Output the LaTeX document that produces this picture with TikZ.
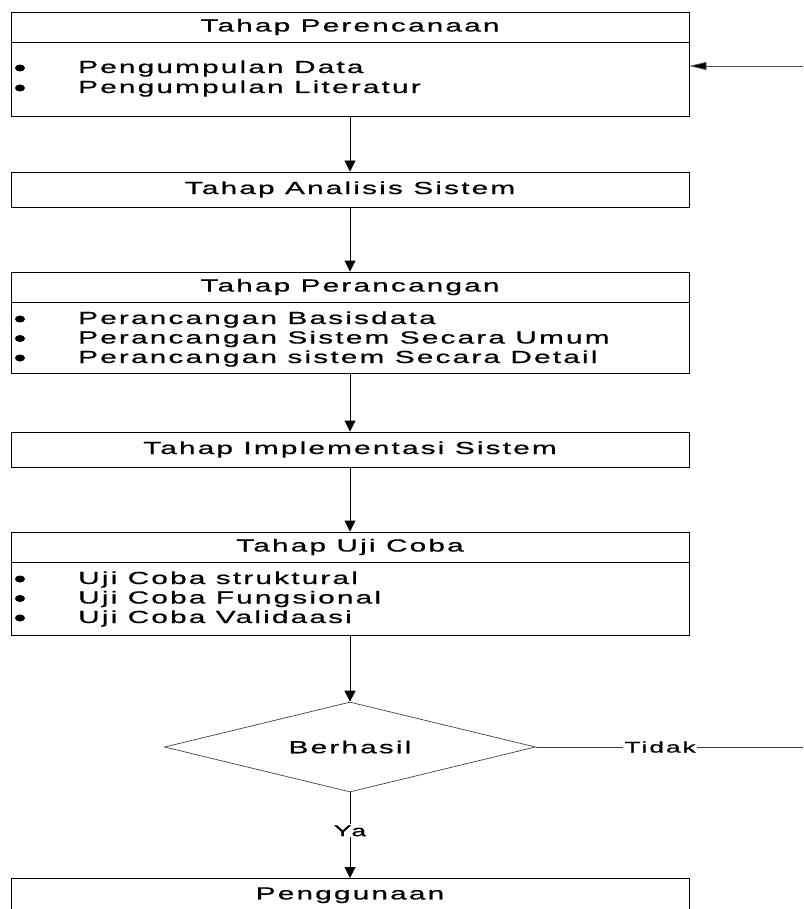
\documentclass[tikz,border=0pt]{standalone}
\usepackage{fontspec}
\newfontfamily\wf[FakeStretch=1.7,LetterSpace=12.5,FakeBold=0.7]{Liberation Sans}
\usetikzlibrary{shapes.geometric,arrows.meta}
\begin{document}
\begin{tikzpicture}[x=1pt,y=-1pt,
  txt/.style={font=\wf\fontsize{17.5}{20}\selectfont},
  box/.style={draw, line width=0.9pt, minimum width=678pt, inner sep=0pt, txt},
  bul/.style={ellipse, fill=black, inner sep=0pt, minimum width=10pt, minimum height=7pt},
  itm/.style={anchor=base west, inner sep=0pt, txt},
  dec/.style={draw=black!75, line width=0.7pt, diamond, aspect=4.12, minimum width=371pt, minimum height=90pt, inner sep=0pt, txt},
  arr/.style={line width=0.9pt, -{Triangle[length=11pt,width=11pt]}},
  arrl/.style={line width=0.8pt, draw=black!70, -{Triangle[length=17pt,width=8pt,fill=black]}},
  lbl/.style={fill=white, inner sep=1pt, font=\wf\fontsize{15.5}{17}\selectfont}
]
\useasboundingbox (0,0) rectangle (803,909);
\clip (0,0) rectangle (803,909);

% Box 1
\node[box, minimum height=30pt] (h1) at (350,27) {Tahap Perencanaan};
\node[box, minimum height=74pt, anchor=north] (b1) at (h1.south) {};
\node[bul] (p1) at (20,68) {};
\node[itm] (q1) at (78,73) {Pengumpulan Data};
\node[bul] (p2) at (20,88) {};
\node[itm] (q2) at (78,93) {Pengumpulan Literatur};

% Box 2
\node[box, minimum height=35pt] (h2) at (350,189.5) {Tahap Analisis Sistem};

% Box 3
\node[box, minimum height=30pt] (h3) at (350,287) {Tahap Perancangan};
\node[box, minimum height=71pt, anchor=north] (b3) at (h3.south) {};
\node[bul] (p3) at (20,319) {};
\node[itm] (q3) at (78,324) {Perancangan Basisdata};
\node[bul] (p4) at (20,338.5) {};
\node[itm] (q4) at (78,343.5) {Perancangan Sistem Secara Umum};
\node[bul] (p5) at (20,358) {};
\node[itm] (q5) at (78,363) {Perancangan sistem Secara Detail};

% Box 4
\node[box, minimum height=35pt] (h4) at (350,449.5) {Tahap Implementasi Sistem};

% Box 5
\node[box, minimum height=30pt] (h5) at (350,547) {Tahap Uji Coba};
\node[box, minimum height=73pt, anchor=north] (b5) at (h5.south) {};
\node[bul] (p6) at (20,579) {};
\node[itm] (q6) at (78,584) {Uji Coba struktural};
\node[bul] (p7) at (20,598.5) {};
\node[itm] (q7) at (78,603.5) {Uji Coba Fungsional};
\node[bul] (p8) at (20,618) {};
\node[itm] (q8) at (78,623) {Uji Coba Validaasi};

% Decision
\node[dec] (d) at (350,747) {Berhasil};

% Box 6
\node[box, text height=21pt, text depth=45pt, anchor=north] (h6) at (350,878) {Penggunaan};

% Connectors
\draw[arr] (b1.south) -- (h2.north);
\draw[arr] (h2.south) -- (h3.north);
\draw[arr] (b3.south) -- (h4.north);
\draw[arr] (h4.south) -- (h5.north);
\draw[arr] (b5.south) -- (d.north);
\draw[arr] (d.south) -- node[lbl, pos=0.45] {Ya} (h6.north);

\coordinate (rT) at (803,66);
\coordinate (rB) at (803,747);
\draw[arrl] (rT) -- (rT -| b1.east);
\draw[line width=0.7pt, black!75] (d.east) -- node[lbl, pos=0.465, text=black] {Tidak} (rB);
\end{tikzpicture}
\end{document}
